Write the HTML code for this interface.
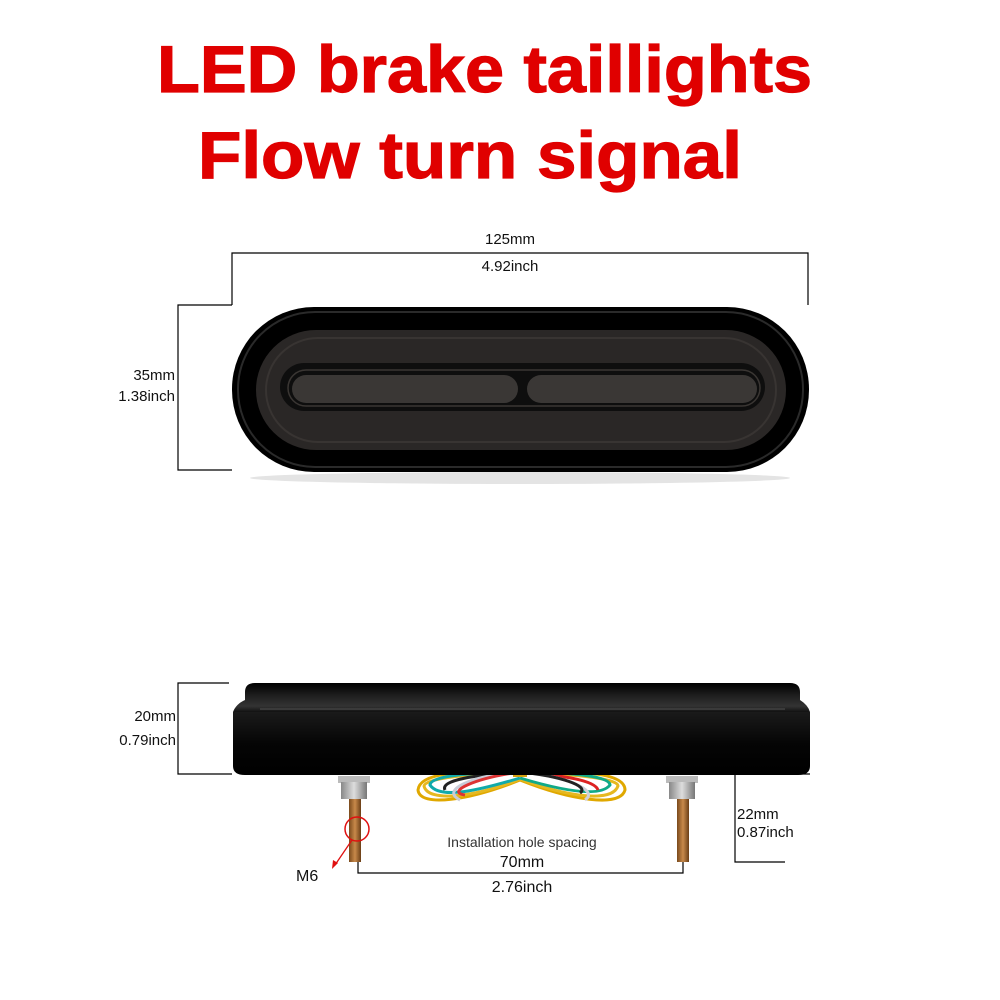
<!DOCTYPE html>
<html><head><meta charset="utf-8"><style>
html,body{margin:0;padding:0;background:#fff}
svg{display:block}
text{font-family:"Liberation Sans",sans-serif}
</style></head><body>
<svg width="1000" height="1000" viewBox="0 0 1000 1000" xmlns="http://www.w3.org/2000/svg">
<defs>
<linearGradient id="body" x1="0" y1="0" x2="0" y2="1">
<stop offset="0" stop-color="#1a1a1a"/><stop offset="0.5" stop-color="#050505"/><stop offset="1" stop-color="#000"/>
</linearGradient>
<linearGradient id="rim" x1="0" y1="0" x2="0" y2="1">
<stop offset="0" stop-color="#000"/><stop offset="0.4" stop-color="#1c1c1c"/><stop offset="0.8" stop-color="#333"/><stop offset="1" stop-color="#111"/>
</linearGradient>
<linearGradient id="bolt" x1="0" y1="0" x2="1" y2="0">
<stop offset="0" stop-color="#7a4a1c"/><stop offset="0.5" stop-color="#c8894a"/><stop offset="1" stop-color="#6a3e16"/>
</linearGradient>
<linearGradient id="nut" x1="0" y1="0" x2="1" y2="0">
<stop offset="0" stop-color="#888"/><stop offset="0.5" stop-color="#ddd"/><stop offset="1" stop-color="#777"/>
</linearGradient>
</defs>
<rect width="1000" height="1000" fill="#fff"/>
<text x="157" y="92" font-size="66" font-weight="bold" fill="#e00000" stroke="#e00000" stroke-width="1.2" textLength="655" lengthAdjust="spacingAndGlyphs">LED brake taillights</text>
<text x="198" y="178" font-size="66" font-weight="bold" fill="#e00000" stroke="#e00000" stroke-width="1.2" textLength="544" lengthAdjust="spacingAndGlyphs">Flow turn signal</text>

<g stroke="#000" stroke-width="1.2" fill="none">
<polyline points="232,305 232,253 808,253 808,305"/>
<polyline points="232,305 178,305 178,470 232,470"/>
</g>
<text x="510" y="244" font-size="15" text-anchor="middle" fill="#111">125mm</text>
<text x="510" y="271" font-size="15" text-anchor="middle" fill="#111">4.92inch</text>
<text x="175" y="380" font-size="15" text-anchor="end" fill="#111">35mm</text>
<text x="175" y="401" font-size="15" text-anchor="end" fill="#111">1.38inch</text>

<ellipse cx="520" cy="478" rx="270" ry="6" fill="#e4e4e4"/>
<rect x="232" y="307" width="577" height="165" rx="82" fill="#000"/>
<rect x="238" y="312" width="565" height="155" rx="77" fill="none" stroke="#2a2a2a" stroke-width="2"/>
<rect x="256" y="330" width="530" height="120" rx="60" fill="#2a2726"/>
<rect x="266" y="338" width="510" height="104" rx="52" fill="none" stroke="#383432" stroke-width="2"/>
<rect x="280" y="363" width="485" height="48" rx="24" fill="#0e0e0e"/>
<rect x="288" y="370" width="472" height="36" rx="18" fill="none" stroke="#3a3633" stroke-width="1.5"/>
<rect x="292" y="375" width="226" height="28" rx="14" fill="#3a3735"/>
<rect x="527" y="375" width="230" height="28" rx="14" fill="#3a3735"/>

<g stroke="#000" stroke-width="1.2" fill="none">
<polyline points="229,683 178,683 178,774 232,774"/>
<polyline points="735,774 735,862 785,862"/>
<polyline points="735,774 810,774"/>
<polyline points="358,862 358,873 683,873 683,862"/>
</g>
<text x="176" y="721" font-size="15" text-anchor="end" fill="#111">20mm</text>
<text x="176" y="745" font-size="15" text-anchor="end" fill="#111">0.79inch</text>
<text x="737" y="819" font-size="15" fill="#111">22mm</text>
<text x="737" y="837" font-size="15" fill="#111">0.87inch</text>

<g fill="none" stroke-width="3">
<path d="M520,772 C470,772 420,770 418,790 C420,808 470,800 520,780" stroke="#e0a800"/>
<path d="M520,772 C470,774 425,778 424,786 C428,803 475,797 520,779" stroke="#e6b820"/>
<path d="M520,772 C480,772 430,775 430,785 C440,800 480,790 520,778" stroke="#1aa"/>
<path d="M520,772 C475,775 440,780 445,790" stroke="#222"/>
<path d="M520,772 C470,776 440,790 460,800" stroke="#c8ccd8"/>
<path d="M520,772 C475,778 445,792 465,795" stroke="#d33"/>
<path d="M520,772 C570,772 625,770 625,790 C620,808 570,800 520,780" stroke="#e0a800"/>
<path d="M520,772 C570,774 618,778 618,786 C612,803 568,797 520,779" stroke="#e6b820"/>
<path d="M520,772 C560,772 610,775 610,785 C600,798 560,790 520,778" stroke="#1a8"/>
<path d="M520,772 C560,775 595,780 598,790" stroke="#d22"/>
<path d="M520,772 C565,776 600,790 585,800" stroke="#d0d0d8"/>
<path d="M520,772 C560,776 590,786 580,793" stroke="#222"/>
</g>
<rect x="513" y="765" width="14" height="12" fill="#d4a010"/>

<path d="M233,712 L233,766 Q233,775 245,775 L798,775 Q810,775 810,766 L810,712 Z" fill="url(#body)"/>
<path d="M245,692 Q245,683 255,683 L790,683 Q800,683 800,692 L800,700 Q808,705 810,712 L233,712 Q236,704 245,700 Z" fill="url(#rim)"/>
<rect x="260" y="708" width="525" height="2" fill="#3a3a3a"/>

<rect x="338" y="776" width="32" height="7" fill="#bbb"/>
<rect x="341" y="782" width="26" height="17" fill="url(#nut)"/>
<rect x="349" y="799" width="12" height="63" fill="url(#bolt)"/>
<rect x="666" y="776" width="32" height="7" fill="#bbb"/>
<rect x="669" y="782" width="26" height="17" fill="url(#nut)"/>
<rect x="677" y="799" width="12" height="63" fill="url(#bolt)"/>

<circle cx="357" cy="829" r="12" fill="none" stroke="#e01010" stroke-width="1.5"/>
<line x1="352" y1="840" x2="335" y2="865" stroke="#e01010" stroke-width="1.3"/>
<polygon points="332,869 333,860 338,863" fill="#e01010"/>
<text x="296" y="881" font-size="16" fill="#111">M6</text>

<text x="522" y="847" font-size="14" text-anchor="middle" fill="#333">Installation hole spacing</text>
<text x="522" y="867" font-size="16" text-anchor="middle" fill="#111">70mm</text>
<text x="522" y="892" font-size="16" text-anchor="middle" fill="#111">2.76inch</text>
</svg>
</body></html>
